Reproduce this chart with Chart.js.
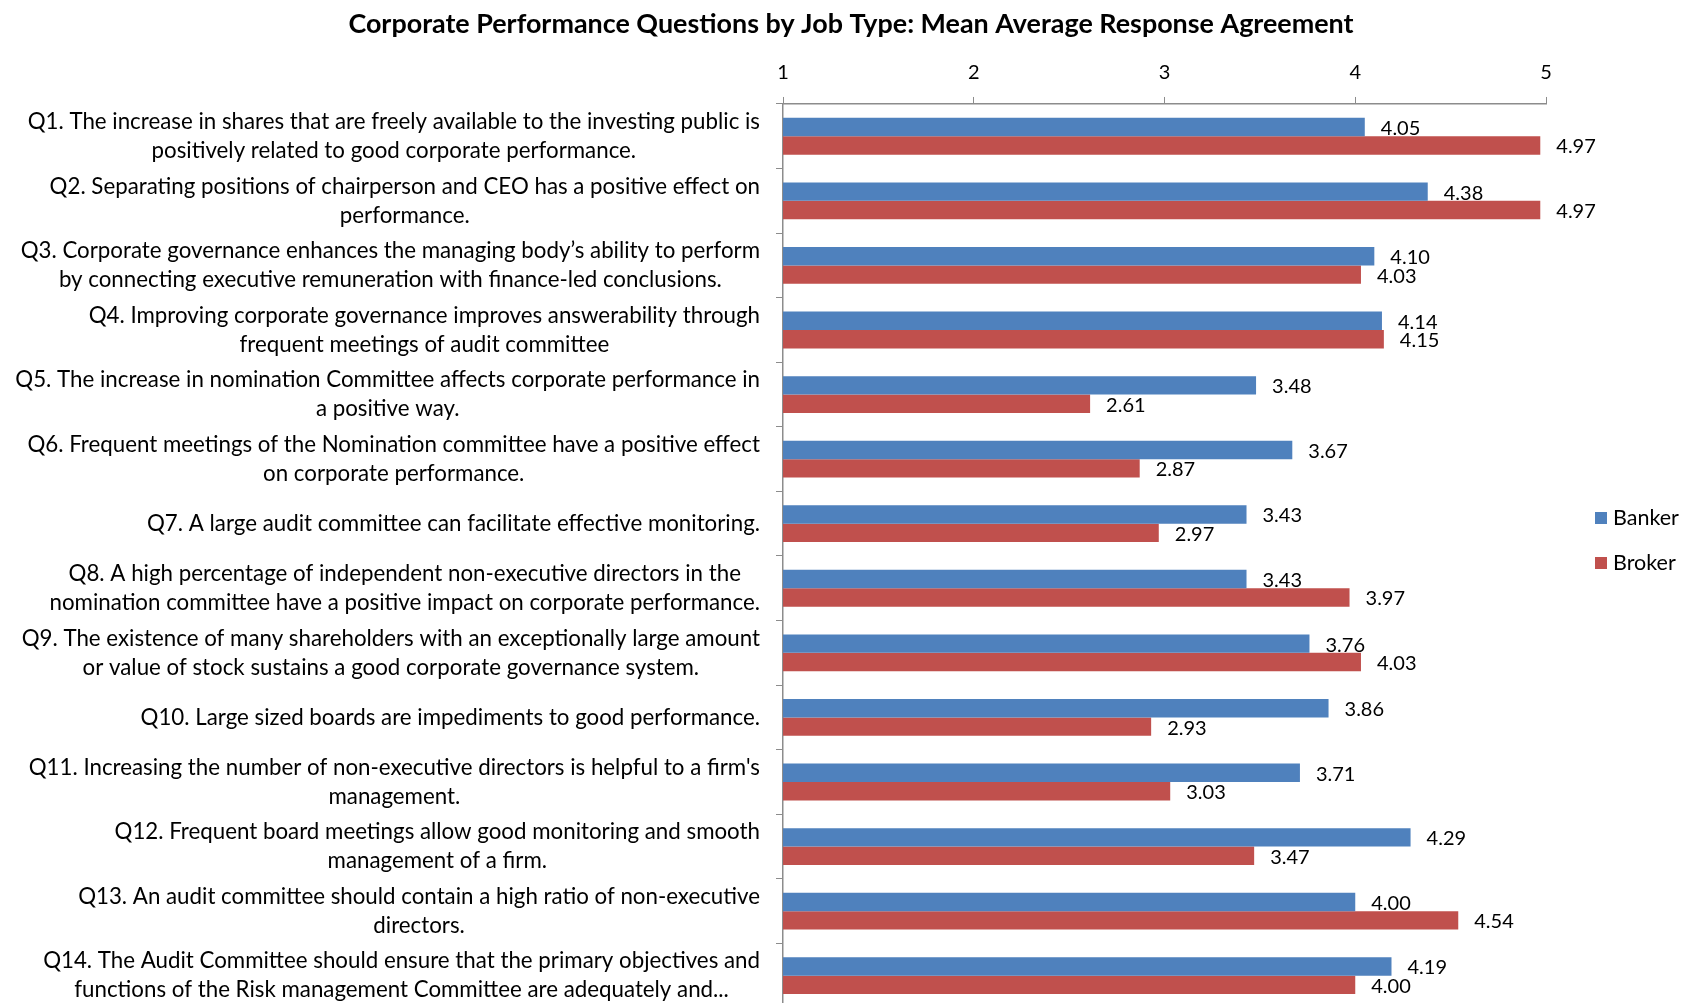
<!DOCTYPE html>
<html>
<head>
<meta charset="utf-8">
<script src="https://cdn.jsdelivr.net/npm/chart.js@4.4.1/dist/chart.umd.min.js"></script>
<style>
  html, body { margin: 0; padding: 0; background: #fff; overflow: hidden; }
  #wrap { width: 1683px; height: 1008px; }
</style>
</head>
<body>
<div id="wrap"><canvas id="chart"></canvas></div>
<script>
var questions = [
    ['Q1. The increase in shares that are freely available to the investing public is', 'positively related to good corporate performance.'],
    ['Q2. Separating positions of chairperson and CEO has a positive effect on', 'performance.'],
    ['Q3. Corporate governance enhances the managing body\u2019s ability to perform', 'by connecting executive remuneration with finance-led conclusions.'],
    ['Q4. Improving corporate governance improves answerability through', 'frequent meetings of audit committee'],
    ['Q5. The increase in nomination Committee affects corporate performance in', 'a positive way.'],
    ['Q6. Frequent meetings of the Nomination committee have a positive effect', 'on corporate performance.'],
    ['Q7. A large audit committee can facilitate effective monitoring.'],
    ['Q8. A high percentage of independent non-executive directors in the', 'nomination committee have a positive impact on corporate performance.'],
    ['Q9. The existence of many shareholders with an exceptionally large amount', 'or value of stock sustains a good corporate governance system.'],
    ['Q10. Large sized boards are impediments to good performance.'],
    ['Q11. Increasing the number of non-executive directors is helpful to a firm\'s', 'management.'],
    ['Q12. Frequent board meetings allow good monitoring and smooth', 'management of a firm.'],
    ['Q13. An audit committee should contain a high ratio of non-executive', 'directors.'],
    ['Q14. The Audit Committee should ensure that the primary objectives and', 'functions of the Risk management Committee are adequately and...']
];
var banker = [4.05, 4.38, 4.10, 4.14, 3.48, 3.67, 3.43, 3.43, 3.76, 3.86, 3.71, 4.29, 4.00, 4.19];
var broker = [4.97, 4.97, 4.03, 4.15, 2.61, 2.87, 2.97, 3.97, 4.03, 2.93, 3.03, 3.47, 4.54, 4.00];
var xTicks = [1, 2, 3, 4, 5];

var FONT = 'Lato, "Open Sans", sans-serif';

// question text: each label right-aligned to the axis, lines centred within it
var questionLabels = {
    id: 'questionLabels',
    afterDraw: function (chart) {
        var ctx = chart.ctx;
        var yScale = chart.scales.y;
        var right = chart.chartArea.left - 23;
        var lh = 29;
        ctx.save();
        ctx.font = '22.3px ' + FONT;
        ctx.fillStyle = '#000';
        ctx.textBaseline = 'middle';
        ctx.textAlign = 'center';
        questions.forEach(function (lines, i) {
            var w = 0;
            lines.forEach(function (l) { w = Math.max(w, ctx.measureText(l).width); });
            var cx = right - w / 2;
            var cy = yScale.getPixelForValue(i);
            var y0 = cy - (lines.length - 1) * lh / 2;
            lines.forEach(function (l, k) { ctx.fillText(l, cx, y0 + k * lh); });
        });
        ctx.restore();
    }
};

// value labels at the end of each bar
var valueLabels = {
    id: 'valueLabels',
    afterDatasetsDraw: function (chart) {
        var ctx = chart.ctx;
        ctx.save();
        ctx.font = '20px ' + FONT;
        ctx.fillStyle = '#000';
        ctx.textBaseline = 'middle';
        ctx.textAlign = 'left';
        chart.data.datasets.forEach(function (ds, di) {
            chart.getDatasetMeta(di).data.forEach(function (bar, i) {
                ctx.fillText(ds.data[i].toFixed(2), bar.x + 16, bar.y + 1.5);
            });
        });
        ctx.restore();
    }
};

// legend on the right
var sideLegend = {
    id: 'sideLegend',
    afterDraw: function (chart) {
        var ctx = chart.ctx;
        ctx.save();
        ctx.font = '21.5px ' + FONT;
        ctx.textBaseline = 'middle';
        ctx.textAlign = 'left';
        chart.data.datasets.forEach(function (ds, i) {
            var y = 518 + i * 45;
            ctx.fillStyle = ds.backgroundColor;
            ctx.fillRect(1595, y - 6, 12, 12);
            ctx.fillStyle = '#000';
            ctx.fillText(ds.label, 1613, y);
        });
        ctx.restore();
    }
};

var ctx = document.getElementById('chart').getContext('2d');
var chart = new Chart(ctx, {
    type: 'bar',
    data: {
        labels: questions,
        datasets: [{
            label: 'Banker',
            data: banker,
            backgroundColor: '#4F81BD',
            categoryPercentage: 0.57,
            barPercentage: 1.0
        }, {
            label: 'Broker',
            data: broker,
            backgroundColor: '#C0504D',
            categoryPercentage: 0.57,
            barPercentage: 1.0
        }]
    },
    plugins: [questionLabels, valueLabels, sideLegend],
    options: {
        indexAxis: 'y',
        responsive: true,
        maintainAspectRatio: false,
        animation: false,
        // left padding only shifts the title centre; the y axis width makes up for it
        layout: { padding: { left: 156, right: 137, top: 0, bottom: 0 } },
        plugins: {
            legend: { display: false },
            tooltip: { enabled: false },
            title: {
                display: true,
                text: 'Corporate Performance Questions by Job Type: Mean Average Response Agreement',
                color: '#000',
                font: { family: FONT, size: 26.9, weight: 'bold' },
                padding: { top: 8, bottom: 6 }
            }
        },
        scales: {
            x: {
                position: 'top',
                min: 1,
                max: 5,
                afterBuildTicks: function (scale) {
                    scale.ticks = xTicks.map(function (v) { return { value: v }; });
                },
                afterFit: function (scale) { scale.height = 104 - 46.3; },
                grid: { drawOnChartArea: false, drawTicks: true, tickLength: 7, color: '#8c8c8c' },
                border: { color: '#8c8c8c', width: 1.5 },
                ticks: { color: '#000', padding: 12, font: { family: FONT, size: 20 } }
            },
            y: {
                afterFit: function (scale) { scale.width = 783 - 156; },
                grid: { drawOnChartArea: false, drawTicks: true, tickLength: 7, color: '#8c8c8c', offset: true },
                border: { color: '#8c8c8c', width: 1.5 },
                ticks: { display: false }
            }
        }
    }
});
</script>
</body>
</html>
